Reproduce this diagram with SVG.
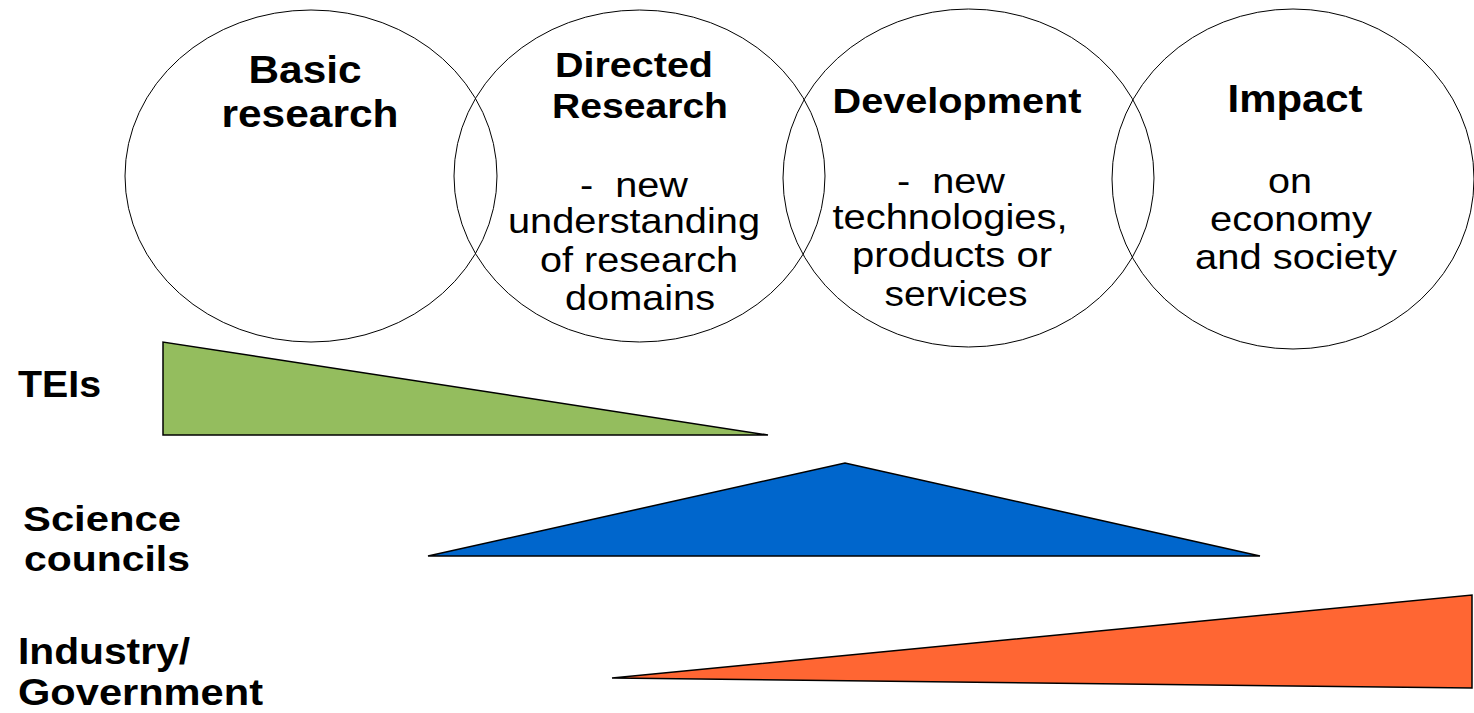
<svg xmlns="http://www.w3.org/2000/svg" width="1474" height="713" viewBox="0 0 1474 713">
<style>
.c{fill:none;stroke:#000;stroke-width:1}
.t{font-family:"Liberation Sans",Arial,sans-serif;fill:#000}
.b{font-weight:bold}
.m{text-anchor:middle}
.tri{stroke:#000;stroke-width:1.5;stroke-linejoin:miter}
</style>
<rect width="1474" height="713" fill="#fff"/>
<g id="circle-basic">
<ellipse class="c" cx="311" cy="176" rx="186" ry="166"/>
<text class="t b m" font-size="38" x="305" y="83" textLength="113" lengthAdjust="spacingAndGlyphs">Basic</text>
<text class="t b m" font-size="38" x="310" y="127" textLength="177" lengthAdjust="spacingAndGlyphs">research</text>
</g>
<g id="circle-directed">
<ellipse class="c" cx="639.5" cy="176" rx="185.5" ry="166"/>
<text class="t b m" font-size="35" x="634" y="77" textLength="158" lengthAdjust="spacingAndGlyphs">Directed</text>
<text class="t b m" font-size="35" x="640" y="118" textLength="176" lengthAdjust="spacingAndGlyphs">Research</text>
<text class="t m" font-size="35" x="634" y="197" textLength="108" lengthAdjust="spacingAndGlyphs" xml:space="preserve">-  new</text>
<text class="t m" font-size="35" x="634" y="233" textLength="252" lengthAdjust="spacingAndGlyphs">understanding</text>
<text class="t m" font-size="35" x="639" y="272" textLength="198" lengthAdjust="spacingAndGlyphs">of research</text>
<text class="t m" font-size="35" x="640" y="310" textLength="150" lengthAdjust="spacingAndGlyphs">domains</text>
</g>
<g id="circle-development">
<ellipse class="c" cx="968.5" cy="178" rx="185.5" ry="169"/>
<text class="t b m" font-size="35" x="957" y="113" textLength="249" lengthAdjust="spacingAndGlyphs">Development</text>
<text class="t m" font-size="35" x="951" y="193" textLength="108" lengthAdjust="spacingAndGlyphs" xml:space="preserve">-  new</text>
<text class="t m" font-size="35" x="950" y="229" textLength="235" lengthAdjust="spacingAndGlyphs">technologies,</text>
<text class="t m" font-size="35" x="952" y="267" textLength="200" lengthAdjust="spacingAndGlyphs">products or</text>
<text class="t m" font-size="35" x="956" y="306" textLength="143" lengthAdjust="spacingAndGlyphs">services</text>
</g>
<g id="circle-impact">
<ellipse class="c" cx="1293" cy="179" rx="181" ry="170"/>
<text class="t b m" font-size="38" x="1295" y="112" textLength="135" lengthAdjust="spacingAndGlyphs">Impact</text>
<text class="t m" font-size="35" x="1290" y="193" textLength="44" lengthAdjust="spacingAndGlyphs">on</text>
<text class="t m" font-size="35" x="1291" y="231" textLength="162" lengthAdjust="spacingAndGlyphs">economy</text>
<text class="t m" font-size="35" x="1296" y="269" textLength="202" lengthAdjust="spacingAndGlyphs">and society</text>
</g>
<g id="teis">
<text class="t b" font-size="37" x="18" y="397" textLength="83" lengthAdjust="spacingAndGlyphs">TEIs</text>
<polygon class="tri" fill="#94BD5E" points="163,342 163,435 768,435"/>
</g>
<g id="science-councils">
<text class="t b" font-size="35" x="23" y="531" textLength="158" lengthAdjust="spacingAndGlyphs">Science</text>
<text class="t b" font-size="35" x="24" y="571" textLength="166" lengthAdjust="spacingAndGlyphs">councils</text>
<polygon class="tri" fill="#0066CC" points="428,556 845,463 1260,556"/>
</g>
<g id="industry-government">
<text class="t b" font-size="36" x="18" y="664" textLength="172" lengthAdjust="spacingAndGlyphs">Industry/</text>
<text class="t b" font-size="36" x="18" y="705" textLength="245" lengthAdjust="spacingAndGlyphs">Government</text>
<polygon class="tri" fill="#FF6633" points="612,678 1472,595 1472,688"/>
</g>
<g id="connectors"></g>
</svg>
